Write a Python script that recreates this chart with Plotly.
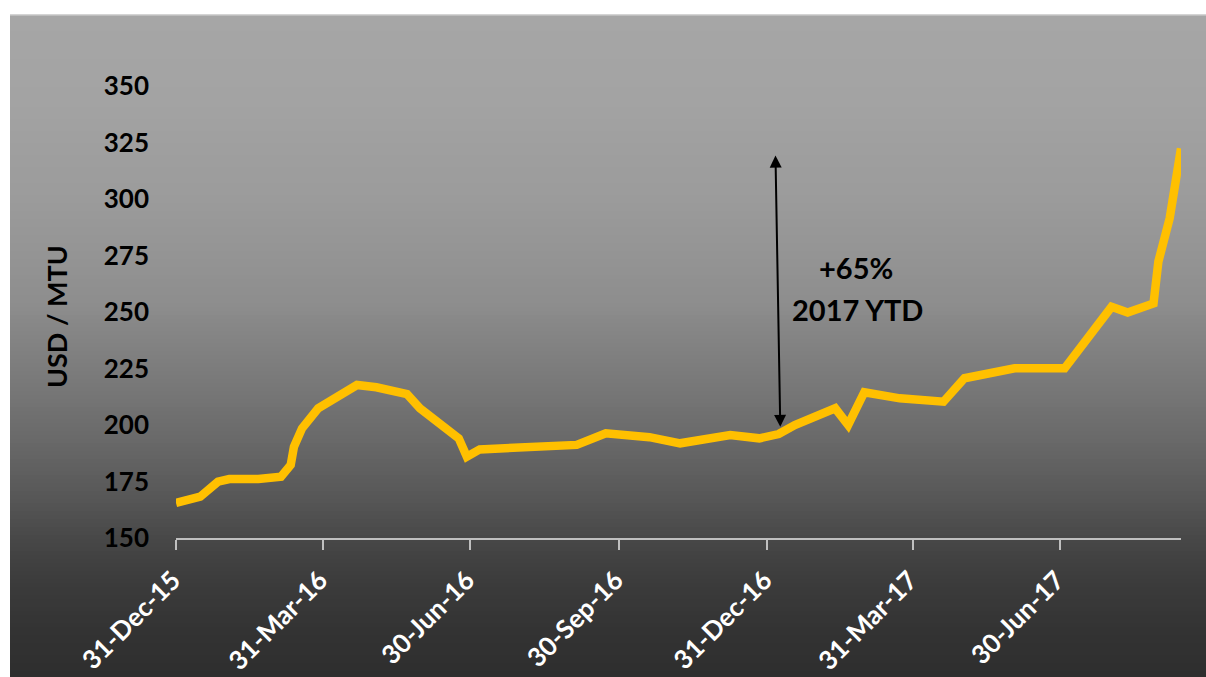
import plotly.graph_objects as go

# ---------------- data ----------------
dates = [
    "2015-12-31", "2016-01-15", "2016-01-26", "2016-02-02", "2016-02-20",
    "2016-03-05", "2016-03-11", "2016-03-13", "2016-03-18", "2016-03-28",
    "2016-04-21", "2016-05-03", "2016-05-22", "2016-05-30", "2016-06-23",
    "2016-06-28", "2016-07-06", "2016-07-19", "2016-08-11", "2016-09-04",
    "2016-09-22", "2016-10-05", "2016-10-19", "2016-11-07", "2016-12-08",
    "2016-12-26", "2017-01-07", "2017-01-17", "2017-02-11", "2017-02-19",
    "2017-03-01", "2017-03-23", "2017-04-19", "2017-05-02", "2017-06-02",
    "2017-07-03", "2017-08-01", "2017-08-11", "2017-08-27", "2017-08-30",
    "2017-09-06", "2017-09-13",
]
prices = [
    165.5, 168.3, 174.9, 176.1, 176.1,
    177.1, 182.3, 190.4, 198.5, 207.4,
    217.7, 216.7, 213.7, 207.4, 194.1,
    186.0, 189.2, 189.7, 191.2, 191.2,
    196.3, 195.6, 194.6, 191.9, 195.6,
    194.1, 196.0, 200.0, 207.4, 200.0,
    214.5, 211.8, 210.3, 220.7, 225.1,
    225.1, 252.3, 249.8, 253.8, 272.3,
    291.5, 322.4,
]
tick_dates = ["2015-12-31", "2016-03-31", "2016-06-30", "2016-09-30",
              "2016-12-31", "2017-03-31", "2017-06-30"]
tick_labels = ["31-Dec-15", "31-Mar-16", "30-Jun-16", "30-Sep-16",
               "31-Dec-16", "31-Mar-17", "30-Jun-17"]
y_ticks = [150, 175, 200, 225, 250, 275, 300, 325, 350]
y_title = "USD / MTU"
note_pct = "+65%"
note_ytd = "2017 YTD"
arrow_from = ("2017-01-05", 319.9)
arrow_to = ("2017-01-08", 199.2)

# ---------------- layout geometry ----------------
W, H = 1206, 677
L, R, T, B = 176, 25, 86, 139
pw, ph = W - L - R, H - T - B


def px_to_paper_x(px):
    return (px - L) / pw


def px_to_paper_y(py):
    return (H - B - py) / ph


# gradient background (pixel y, gray level)
stops = [(15, 0xa6), (100, 0xa3), (200, 0x9b), (300, 0x8e), (360, 0x7e),
         (400, 0x74), (450, 0x66), (500, 0x56), (540, 0x47), (580, 0x3c),
         (630, 0x33), (677, 0x2e)]


def gray_at(y):
    for (y0, g0), (y1, g1) in zip(stops[:-1], stops[1:]):
        if y0 <= y <= y1:
            t = (y - y0) / (y1 - y0)
            return g0 + (g1 - g0) * t
    return stops[-1][1]


shapes = []
band = 4
y = 15
while y < H:
    y2 = min(y + band, H)
    g = int(round(gray_at((y + y2) / 2)))
    col = f"rgb({g},{g},{g})"
    shapes.append(dict(
        type="rect", xref="paper", yref="paper", layer="below",
        x0=px_to_paper_x(10), x1=px_to_paper_x(W + 2),
        y0=px_to_paper_y(y2 + 0.6), y1=px_to_paper_y(y),
        fillcolor=col, line=dict(width=0),
    ))
    y = y2
shapes.append(dict(
    type="line", xref="paper", yref="paper", layer="below",
    x0=px_to_paper_x(10), x1=px_to_paper_x(W + 2),
    y0=px_to_paper_y(15), y1=px_to_paper_y(15),
    line=dict(color="#c6c6c6", width=1.5),
))

FONT = "Lato"

fig = go.Figure()
fig.add_trace(go.Scatter(
    x=dates, y=prices, mode="lines",
    line=dict(color="#FFC000", width=8.5),
    hoverinfo="skip", showlegend=False,
))

annotations = [
    dict(x=arrow_to[0], y=arrow_to[1], ax=arrow_from[0], ay=arrow_from[1],
         xref="x", yref="y", axref="x", ayref="y", text="",
         showarrow=True, arrowhead=2, startarrowhead=2, arrowside="end+start",
         arrowsize=1.2, startarrowsize=1.2, arrowwidth=2, arrowcolor="#000000",
         standoff=0, startstandoff=0),
    dict(x="2017-02-24", y=269.5, xref="x", yref="y", text=note_pct,
         showarrow=False, font=dict(family=FONT, size=29, color="#000000", weight="bold"),
         xanchor="center", yanchor="middle"),
    dict(x="2017-02-25", y=251.3, xref="x", yref="y", text=note_ytd,
         showarrow=False, font=dict(family=FONT, size=29, color="#000000", weight="bold"),
         xanchor="center", yanchor="middle"),
    dict(x=px_to_paper_x(56), y=px_to_paper_y(317), xref="paper", yref="paper",
         text=y_title, textangle=-90, showarrow=False,
         font=dict(family=FONT, size=27, color="#000000", weight="bold"),
         xanchor="center", yanchor="middle"),
]

fig.update_layout(
    width=W, height=H,
    margin=dict(l=L, r=R, t=T, b=B, autoexpand=False),
    paper_bgcolor="#ffffff",
    plot_bgcolor="rgba(0,0,0,0)",
    font=dict(family=FONT),
    shapes=shapes,
    annotations=annotations,
    showlegend=False,
    xaxis=dict(
        type="date", range=["2015-12-31", "2017-09-13"],
        tickvals=tick_dates, ticktext=tick_labels, tickangle=-45,
        tickfont=dict(family=FONT, size=26, color="#ffffff", weight="bold"),
        showgrid=False, zeroline=False,
        showline=True, linecolor="#bfbfbf", linewidth=1.5,
        ticks="outside", ticklen=10, tickcolor="#bfbfbf", tickwidth=1.5,
        ticklabelstandoff=5, ticklabelshift=-3,
        automargin=False, fixedrange=True,
    ),
    yaxis=dict(
        range=[150, 350], tickvals=y_ticks,
        tickfont=dict(family=FONT, size=26, color="#000000", weight="bold"),
        showgrid=False, zeroline=False, showline=False, ticks="",
        ticklabelstandoff=26, automargin=False, fixedrange=True,
    ),
)

fig.write_html(
    "out.html",
    config={"displayModeBar": False},
    post_script="document.body.style.margin='0';document.body.style.overflow='hidden';",
)
